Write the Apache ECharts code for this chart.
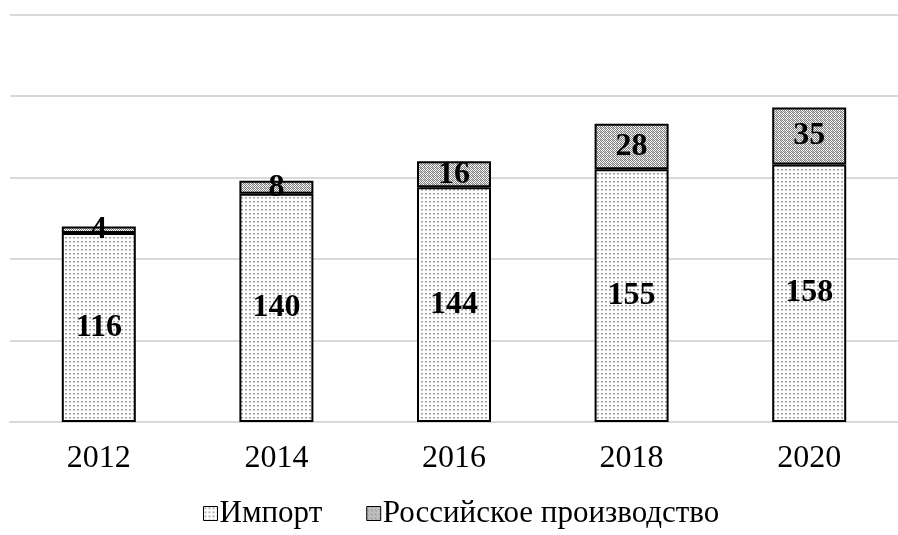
<!DOCTYPE html>
<html><head><meta charset="utf-8">
<script src="https://cdn.jsdelivr.net/npm/echarts@6/dist/echarts.min.js"></script>
<style>html,body{margin:0;padding:0;background:#fff}#c{width:898px;height:535px}</style>
</head><body><div id="c"></div>
<script>
const categories = ['2012','2014','2016','2018','2020'];
const importValues = [116,140,144,155,158];
const russianValues = [4,8,16,28,35];
const seriesNames = ['Импорт','Российское производство'];

function makePattern(kind){
  const c = document.createElement('canvas');
  c.width = 4; c.height = 4;
  const g = c.getContext('2d');
  g.fillStyle = '#ffffff'; g.fillRect(0,0,4,4);
  if (kind === 'dots') {
    g.fillStyle = '#a0a0a0';
    g.fillRect(1,1,2,1);
    g.fillStyle = '#cccccc';
    g.fillRect(1,2,2,1);
  } else {
    g.fillStyle = '#808080';
    g.fillRect(0,0,1,1); g.fillRect(2,0,1,1);
    g.fillRect(1,1,1,1); g.fillRect(3,1,1,1);
    g.fillRect(0,2,1,1); g.fillRect(2,2,1,1);
    g.fillRect(1,3,1,1); g.fillRect(3,3,1,1);
    g.fillStyle = '#c8c8c8';
    g.fillRect(1,0,1,1); g.fillRect(0,3,1,1);
  }
  return c;
}
const importFill = {image: makePattern('dots'), repeat: 'repeat'};
const rusFill = {image: makePattern('check'), repeat: 'repeat'};

const font = '"Liberation Serif","Times New Roman",serif';
const chart = echarts.init(document.getElementById('c'), null, {renderer:'canvas'});
const labelStyle = {show:true, position:'inside', fontFamily:font, fontSize:32, fontWeight:'bold', color:'#000'};
chart.setOption({
  animation:false,
  grid:{left:10, right:-13, top:14.5, bottom:113, containLabel:false},
  xAxis:{type:'category', data:categories,
    axisLine:{lineStyle:{color:'#d9d9d9', width:2}}, axisTick:{show:false},
    axisLabel:{fontFamily:font, fontSize:32, color:'#000', margin:21}},
  yAxis:{type:'value', min:0, max:250, interval:50, axisLabel:{show:false},
    axisLine:{show:false}, axisTick:{show:false},
    splitLine:{lineStyle:{color:'#d9d9d9', width:2}}},
  legend:{top:493, left:198, icon:'rect', itemWidth:14, itemHeight:14, itemGap:44,
    itemStyle:{borderColor:'#000', borderWidth:1},
    textStyle:{fontFamily:font, fontSize:31, color:'#000', padding:[0,0,0,-3]},
    data:seriesNames},
  series:[
    {name:seriesNames[0], type:'bar', stack:'t', data:importValues, barWidth:74,
     itemStyle:{color:importFill, borderColor:'#000', borderWidth:2}, label:labelStyle},
    {name:seriesNames[1], type:'bar', stack:'t', data:russianValues, barWidth:74,
     itemStyle:{color:rusFill, borderColor:'#000', borderWidth:2}, label:labelStyle}
  ]
});
</script></body></html>
